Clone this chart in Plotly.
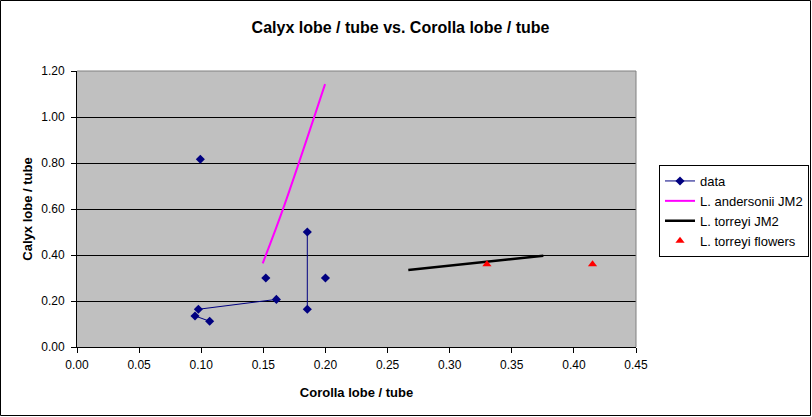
import plotly.graph_objects as go

# "data" series; None breaks the line like blank cells in the sheet
data_x = [0.0993, None, 0.152, None, 0.0977, 0.1605, None, 0.095, 0.1068, None, 0.1854, 0.1854, None, 0.200]
data_y = [0.816, None, 0.300, None, 0.164, 0.207, None, 0.135, 0.112, None, 0.500, 0.164, None, 0.300]

andersonii_x = [0.1495, 0.1656, 0.1997]
andersonii_y = [0.364, 0.596, 1.143]

torreyi_x = [0.2667, 0.3754]
torreyi_y = [0.335, 0.397]

flowers_x = [0.330, 0.415]
flowers_y = [0.360, 0.360]

x_ticks = [0.00, 0.05, 0.10, 0.15, 0.20, 0.25, 0.30, 0.35, 0.40, 0.45]
y_ticks = [0.00, 0.20, 0.40, 0.60, 0.80, 1.00, 1.20]

W, H = 812, 417
L, R, T, B = 77, 636, 71, 347
pw, ph = R - L, B - T
SANS = "Liberation Sans, Arial, sans-serif"

fig = go.Figure()
fig.add_trace(go.Scatter(x=data_x, y=data_y, mode="lines+markers", name="data",
                         connectgaps=False,
                         line=dict(color="#000080", width=1),
                         marker=dict(symbol="diamond", size=7, color="#000080")))
fig.add_trace(go.Scatter(x=andersonii_x, y=andersonii_y, mode="lines",
                         name="L. andersonii JM2",
                         line=dict(color="#FF00FF", width=2, shape="spline")))
fig.add_trace(go.Scatter(x=torreyi_x, y=torreyi_y, mode="lines", name="L. torreyi JM2",
                         line=dict(color="#000000", width=2.5)))
fig.add_trace(go.Scatter(x=flowers_x, y=flowers_y, mode="markers", name="L. torreyi flowers",
                         marker=dict(symbol="triangle-up", size=8, color="#FF0000")))

axis_font = dict(family=SANS, size=12, color="black")
fig.update_layout(
    width=W, height=H,
    margin=dict(l=L, r=W - R, t=T, b=H - B, autoexpand=False),
    paper_bgcolor="white", plot_bgcolor="#C0C0C0",
    title=dict(text="<b>Calyx lobe / tube vs. Corolla lobe / tube</b>",
               x=400.5 / W, xanchor="center", y=1 - 27 / H, yanchor="middle",
               font=dict(family=SANS, size=16, color="black")),
    xaxis=dict(range=[0, 0.45], tickvals=x_ticks, tickformat=".2f",
               showgrid=False, zeroline=False, showline=True, linecolor="black", linewidth=1,
               ticks="outside", ticklen=5, tickcolor="black", tickfont=axis_font,
               ticklabelstandoff=2,
               title=dict(text="<b>Corolla lobe / tube</b>", standoff=16,
                          font=dict(family=SANS, size=13, color="black"))),
    yaxis=dict(range=[0, 1.2], tickvals=y_ticks, tickformat=".2f",
               showgrid=True, gridcolor="black", gridwidth=1,
               zeroline=False, showline=True, linecolor="black", linewidth=1,
               ticks="outside", ticklen=5, tickcolor="black", tickfont=axis_font,
               ticklabelstandoff=4,
               title=dict(text="<b>Calyx lobe / tube</b>", standoff=5,
                          font=dict(family=SANS, size=13, color="black"))),
    legend=dict(x=(659 - L) / pw, y=(B - 165) / ph, xanchor="left", yanchor="top",
                bgcolor="white", bordercolor="black", borderwidth=1,
                font=dict(family=SANS, size=13, color="black"),
                tracegroupgap=0, itemwidth=30),
    showlegend=True,
)

# gray plot-area border on top and right
fig.add_shape(type="line", xref="paper", yref="paper", x0=0, x1=1, y0=1, y1=1,
              line=dict(color="#808080", width=1), layer="above")
fig.add_shape(type="line", xref="paper", yref="paper", x0=1, x1=1, y0=0, y1=1,
              line=dict(color="#808080", width=1), layer="above")
# outer chart border
fig.add_shape(type="rect", xref="paper", yref="paper",
              x0=(0.5 - L) / pw, x1=(W - 1.5 - L) / pw,
              y0=(B - (H - 1.5)) / ph, y1=(B - 0.5) / ph,
              line=dict(color="black", width=1), layer="above")

# no page margin / scrollbars, so the figure sits exactly in the window
page_fix = ("document.documentElement.style.overflow='hidden';"
            "document.body.style.overflow='hidden';"
            "document.body.style.margin='0';")
fig.write_html("out.html", post_script=page_fix,
               config={"displayModeBar": False, "responsive": False})
